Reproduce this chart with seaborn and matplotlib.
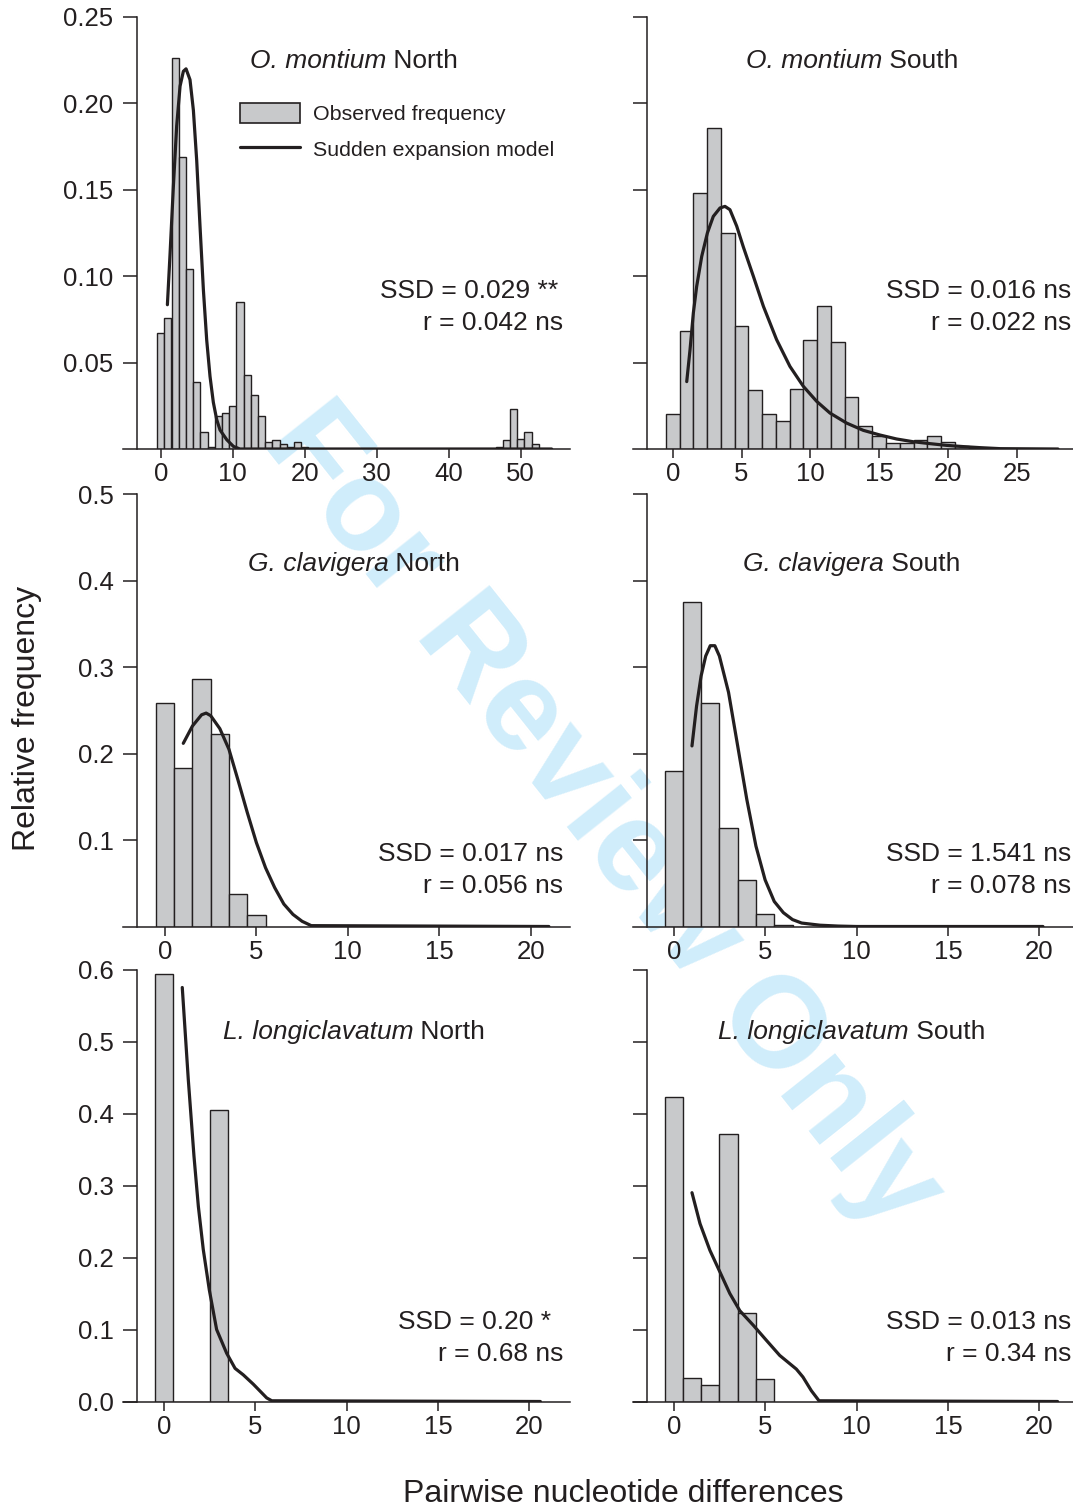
import matplotlib
matplotlib.use("Agg")
import matplotlib.pyplot as plt
from matplotlib.patches import Patch
from matplotlib.lines import Line2D
import seaborn as sns

# Observed mismatch distributions (relative frequency per number of pairwise differences)
om_n_diff = [0, 1, 2, 3, 4, 5, 6, 7, 8, 9, 10, 11, 12, 13, 14, 15, 16, 17, 18, 19, 20,
             47, 48, 49, 50, 51, 52]
om_n_freq = [0.067, 0.076, 0.226, 0.169, 0.104, 0.039, 0.010, 0.001, 0.019, 0.021, 0.025,
             0.085, 0.043, 0.031, 0.019, 0.004, 0.005, 0.003, 0.001, 0.004, 0.001,
             0.001, 0.005, 0.023, 0.006, 0.010, 0.003]
om_s_diff = list(range(0, 24))
om_s_freq = [0.020, 0.068, 0.148, 0.186, 0.125, 0.071, 0.034, 0.020, 0.016, 0.035, 0.063, 0.083,
             0.062, 0.030, 0.0135, 0.0077, 0.0033, 0.0033, 0.0054, 0.0075, 0.0042, 0.0015,
             0.0008, 0.0005]
gc_n_diff = [0, 1, 2, 3, 4, 5]
gc_n_freq = [0.259, 0.183, 0.287, 0.223, 0.0375, 0.013]
gc_s_diff = [0, 1, 2, 3, 4, 5, 6]
gc_s_freq = [0.180, 0.376, 0.259, 0.114, 0.054, 0.014, 0.002]
ll_n_diff = [0, 1, 2, 3]
ll_n_freq = [0.594, 0.0, 0.0, 0.405]
ll_s_diff = [0, 1, 2, 3, 4, 5]
ll_s_freq = [0.423, 0.033, 0.023, 0.371, 0.123, 0.031]

# Sudden expansion model curves
om_n_mx = [0.93, 1.3, 1.76, 2.22, 2.69, 3.15, 3.52, 4.07, 4.54, 5.0, 5.46, 5.93, 6.39, 6.85,
           7.31, 7.78, 8.24, 9.17, 10.1, 11.0, 54.3]
om_n_my = [0.0835, 0.113, 0.152, 0.187, 0.210, 0.2186, 0.220, 0.2137, 0.196, 0.167, 0.129,
           0.092, 0.063, 0.042, 0.027, 0.017, 0.011, 0.0054, 0.0015, 0.0, 0.0]
om_s_mx = [1.02, 1.26, 1.5, 1.74, 2.11, 2.52, 2.95, 3.44, 3.8, 4.16, 4.65, 5.13, 5.86, 6.59,
           7.55, 8.52, 9.49, 10.46, 11.43, 12.64, 13.85, 15.06, 16.27, 17.48, 18.7, 19.9,
           21.1, 22.3, 23.8, 28.0]
om_s_my = [0.039, 0.0575, 0.0787, 0.094, 0.1115, 0.125, 0.1346, 0.1395, 0.1404, 0.1385, 0.129,
           0.117, 0.100, 0.0826, 0.0633, 0.0478, 0.0363, 0.0276, 0.0208, 0.015, 0.0108,
           0.0081, 0.0058, 0.0042, 0.0031, 0.0021, 0.0014, 0.0008, 0.0002, 0.0]
gc_n_mx = [1, 1.5, 2, 2.25, 2.5, 3, 3.5, 4, 4.5, 5, 5.5, 6, 6.5, 7, 7.5, 8, 21]
gc_n_my = [0.212, 0.232, 0.245, 0.247, 0.244, 0.229, 0.205, 0.169, 0.132, 0.097, 0.068,
           0.045, 0.026, 0.014, 0.006, 0.001, 0.0]
gc_s_mx = [1, 1.25, 1.5, 1.75, 2, 2.25, 2.5, 3, 3.5, 4, 4.5, 5, 5.5, 6, 6.5, 7, 8, 9, 10, 20.2]
gc_s_my = [0.209, 0.255, 0.29, 0.313, 0.325, 0.325, 0.313, 0.271, 0.209, 0.147, 0.093, 0.054,
           0.029, 0.016, 0.008, 0.004, 0.0015, 0.0005, 0.0, 0.0]
ll_n_mx = [1, 1.33, 1.64, 1.88, 2.15, 2.48, 2.88, 3.43, 3.89, 4.34, 4.89, 5.62, 5.9, 20.6]
ll_n_my = [0.575, 0.447, 0.341, 0.271, 0.211, 0.155, 0.100, 0.067, 0.046, 0.037, 0.024,
           0.005, 0.001, 0.0]
ll_s_mx = [1, 1.44, 1.98, 2.49, 3.07, 3.62, 4.35, 5.07, 5.8, 6.71, 7.07, 7.53, 7.95, 21]
ll_s_my = [0.29, 0.247, 0.210, 0.182, 0.150, 0.126, 0.106, 0.085, 0.064, 0.045, 0.034,
           0.015, 0.001, 0.0]

species = ["O. montium", "O. montium", "G. clavigera", "G. clavigera",
           "L. longiclavatum", "L. longiclavatum"]
regions = ["North", "South", "North", "South", "North", "South"]
ssd_labels = ["SSD = 0.029 **", "SSD = 0.016 ns", "SSD = 0.017 ns",
              "SSD = 1.541 ns", "SSD = 0.20 *", "SSD = 0.013 ns"]
r_labels = ["r = 0.042 ns", "r = 0.022 ns", "r = 0.056 ns",
            "r = 0.078 ns", "r = 0.68 ns", "r = 0.34 ns"]
row_ymax = [0.25, 0.5, 0.6]
row_yticks = [[0.05, 0.10, 0.15, 0.20, 0.25], [0.1, 0.2, 0.3, 0.4, 0.5],
              [0.0, 0.1, 0.2, 0.3, 0.4, 0.5, 0.6]]
row_yfmt = ["{:.2f}", "{:.1f}", "{:.1f}"]
panel_xticks = [range(0, 51, 10), range(0, 26, 5), range(0, 21, 5),
                range(0, 21, 5), range(0, 21, 5), range(0, 21, 5)]

sns.set_theme(style="ticks")
ink = "#231f20"
bar_grey = "#c8c9cb"
plt.rcParams["font.family"] = ["Liberation Sans", "DejaVu Sans"]
plt.rcParams["text.color"] = ink
plt.rcParams["axes.edgecolor"] = ink
plt.rcParams["xtick.color"] = ink
plt.rcParams["ytick.color"] = ink

W, H = 1073, 1506
fig = plt.figure(figsize=(W / 100, H / 100), dpi=100)
renderer = fig.canvas.get_renderer()

# pixel layout
col_left = [123, 633]
col_right = [570, 1073]
col_spine = [137, 647]
row_top = [17, 494.5, 969.5]
row_bot = [449, 926.5, 1401.5]
zero_px = [160.7, 672.7, 165.0, 673.7, 164.0, 673.7]
px_per_unit = [7.2, 13.76, 18.28, 18.28, 18.27, 18.28]
title_x = [354, 852]
title_y = [61, 564, 1032]
stat_right = [563, 1071]
ssd_right = [558, 1071, 563, 1071, 551, 1071]
ssd_y = [291, 854, 1322]
r_y = [323, 886, 1354]

diffs = [om_n_diff, om_s_diff, gc_n_diff, gc_s_diff, ll_n_diff, ll_s_diff]
freqs = [om_n_freq, om_s_freq, gc_n_freq, gc_s_freq, ll_n_freq, ll_s_freq]
model_x = [om_n_mx, om_s_mx, gc_n_mx, gc_s_mx, ll_n_mx, ll_s_mx]
model_y = [om_n_my, om_s_my, gc_n_my, gc_s_my, ll_n_my, ll_s_my]

# watermark sits behind everything
fig.text(602 / W, 1 - 818 / H, "For Review Only", rotation=-51.5, rotation_mode="anchor",
         ha="center", va="center", fontsize=93, fontweight="bold", color="#d0edfb", zorder=-1)


def panel_title(cx, cy, italic_part, plain_part):
    # italic species name followed by the plain region name, centred as one line
    t1 = fig.text(0, 1 - cy / H, italic_part, style="italic", fontsize=19,
                  ha="left", va="center")
    t2 = fig.text(0, 1 - cy / H, " " + plain_part, fontsize=19, ha="left", va="center")
    w1 = t1.get_window_extent(renderer).width
    w2 = t2.get_window_extent(renderer).width
    start = cx - (w1 + w2) / 2
    t1.set_x(start / W)
    t2.set_x((start + w1) / W)


for i in range(6):
    row, col = divmod(i, 2)
    x0, x1 = col_left[col], col_right[col]
    y0, y1 = row_top[row], row_bot[row]
    ax = fig.add_axes([x0 / W, 1 - y1 / H, (x1 - x0) / W, (y1 - y0) / H])
    ax.set_facecolor("none")

    sns.histplot(x=diffs[i], weights=freqs[i], discrete=True, stat="count",
                 color=bar_grey, edgecolor=ink, linewidth=1.0, alpha=1, ax=ax)
    sns.lineplot(x=model_x[i], y=model_y[i], color=ink, linewidth=2.3, ax=ax)

    ax.set_xlim((x0 - zero_px[i]) / px_per_unit[i], (x1 - zero_px[i]) / px_per_unit[i])
    ax.set_ylim(0, row_ymax[row])
    ax.set(xlabel="", ylabel="")

    ax.spines["top"].set_visible(False)
    ax.spines["right"].set_visible(False)
    ax.spines["left"].set_position(("axes", (col_spine[col] - x0) / (x1 - x0)))
    for s in ("left", "bottom"):
        ax.spines[s].set_linewidth(1.1)
        ax.spines[s].set_color(ink)

    ax.set_xticks(list(panel_xticks[i]))
    ax.set_yticks(row_yticks[row])
    ax.set_yticklabels([row_yfmt[row].format(v) for v in row_yticks[row]])
    ax.tick_params(axis="y", length=10, width=1.1, pad=7, labelsize=18.5,
                   labelleft=(col == 0))
    ax.tick_params(axis="x", length=6.5, width=1.1, pad=3, labelsize=18.5)

    panel_title(title_x[col], title_y[row], species[i], regions[i])
    fig.text(ssd_right[i] / W, 1 - ssd_y[row] / H, ssd_labels[i], ha="right", va="center",
             fontsize=19)
    fig.text(stat_right[col] / W, 1 - r_y[row] / H, r_labels[i], ha="right", va="center",
             fontsize=19)

    if i == 0:
        handles = [Patch(facecolor=bar_grey, edgecolor=ink, linewidth=1.2),
                   Line2D([], [], color=ink, linewidth=2.3)]
        ax.legend(handles, ["Observed frequency", "Sudden expansion model"],
                  loc="upper left", bbox_to_anchor=(240 / W, 1 - 103 / H),
                  bbox_transform=fig.transFigure, frameon=False, fontsize=15.4,
                  handlelength=2.8, handleheight=1.05, handletextpad=0.6,
                  labelspacing=0.68, borderpad=0, borderaxespad=0)

fig.text(27 / W, 1 - 718 / H, "Relative frequency", rotation=90, ha="center", va="center",
         fontsize=23)
fig.text(623 / W, 1 - 1494 / H, "Pairwise nucleotide differences", ha="center", va="center",
         fontsize=23)

fig.savefig("out.png", dpi=100)
